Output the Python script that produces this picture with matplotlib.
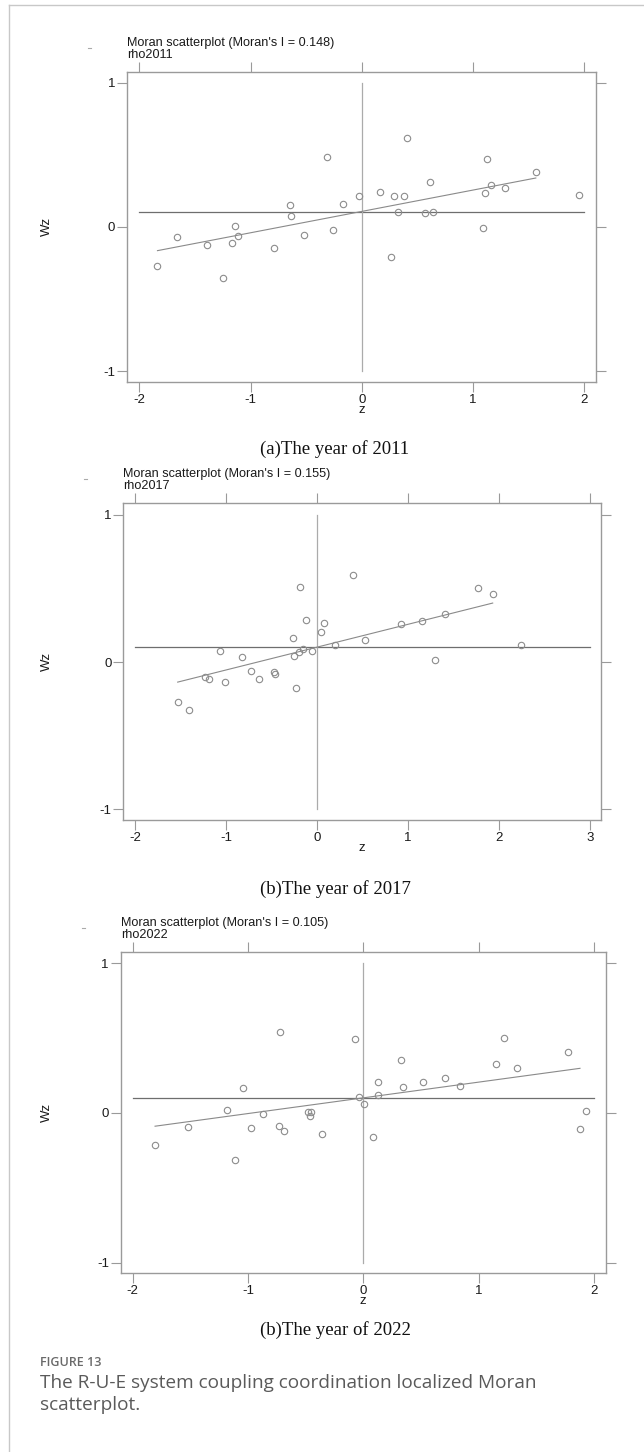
import matplotlib
matplotlib.use('Agg')
import matplotlib.pyplot as plt
from matplotlib.lines import Line2D

plt.rcParams['font.family'] = ['Liberation Sans', 'DejaVu Sans']

z2011 = [-1.837, -1.66, -1.39, -1.249, -1.163, -1.136, -1.115, -0.791, -0.647, -0.635,
         -0.521, -0.258, -0.171, -0.024, 0.165, 0.291, 0.375, 0.321, 0.264, 0.572,
         0.638, 0.617, 1.085, 1.106, 1.157, 1.291, 1.954, -0.312, 0.407, 1.121, 1.564]
wz2011 = [-0.268, -0.067, -0.127, -0.356, -0.111, 0.005, -0.060, -0.148, 0.152, 0.079,
          -0.053, -0.021, 0.162, 0.217, 0.242, 0.215, 0.215, 0.106, -0.208, 0.095,
          0.104, 0.312, -0.005, 0.238, 0.291, 0.270, 0.219, 0.483, 0.617, 0.469, 0.381]

z2017 = [0.396, -0.187, 1.771, 1.932, -0.121, 0.077, 0.040, -0.264, 0.927, 1.158,
         1.408, 0.532, 0.198, 2.247, -0.150, -0.202, -0.051, -0.253, -1.067, -0.825,
         1.298, -1.228, -1.188, -1.008, -0.729, -0.641, -0.473, -0.458, -0.227, -1.532, -1.408]
wz2017 = [0.590, 0.511, 0.505, 0.462, 0.285, 0.265, 0.204, 0.161, 0.258, 0.276,
          0.324, 0.147, 0.118, 0.118, 0.090, 0.070, 0.077, 0.038, 0.075, 0.032,
          0.014, -0.102, -0.118, -0.134, -0.063, -0.118, -0.070, -0.084, -0.175, -0.274, -0.324]

z2022 = [-0.720, -0.075, 1.217, 1.777, 0.329, 1.150, 1.329, -1.040, 0.130, 0.341,
         0.517, 0.708, 0.841, -0.038, 0.130, 0.009, -1.185, -0.873, -0.483, -0.451,
         -0.465, 1.934, -1.517, -0.971, -0.728, -0.685, -0.358, 0.084, 1.879, -1.809, -1.116]
wz2022 = [0.539, 0.497, 0.499, 0.410, 0.352, 0.330, 0.301, 0.169, 0.205, 0.174,
          0.205, 0.236, 0.178, 0.105, 0.118, 0.060, 0.022, -0.004, 0.009, 0.009,
          -0.022, 0.013, -0.091, -0.100, -0.087, -0.120, -0.143, -0.163, -0.109, -0.214, -0.312]

morans_i = [0.148, 0.155, 0.105]
intercepts = [0.108, 0.101, 0.101]
fit_ends = [[-1.837, 1.564], [-1.532, 1.932], [-1.806, 1.879]]
mean_wz = [0.106, 0.100, 0.100]
var_names = ['rho2011', 'rho2017', 'rho2022']
xticks_list = [[-2, -1, 0, 1, 2], [-2, -1, 0, 1, 2, 3], [-2, -1, 0, 1, 2]]
subcaps = ['(a)The year of 2011', '(b)The year of 2017', '(b)The year of 2022']

W, H = 644, 1452
fig = plt.figure(figsize=(W / 100, H / 100), dpi=100)

# frame boxes in pixels: left, right, top, bottom
boxes = [(127, 596, 72, 381.7), (123.3, 601, 503.3, 820), (120.7, 605.7, 952, 1273.3)]
xlims = [(-2.111, 2.105), (-2.130, 3.123), (-2.104, 2.102)]
ylims = [(-1.072, 1.074), (-1.073, 1.078), (-1.072, 1.076)]
subcap_y = [449, 889, 1330]

zs = [z2011, z2017, z2022]
wzs = [wz2011, wz2017, wz2022]

frame_col = '#9a9a9a'
txt_col = '#1a1a1a'
for i in range(3):
    l, r, t, b = boxes[i]
    ax = fig.add_axes([l / W, 1 - b / H, (r - l) / W, (b - t) / H])
    xt = xticks_list[i]
    ax.plot([xt[0], xt[-1]], [mean_wz[i], mean_wz[i]], color='#6e6e6e', lw=0.9)
    ax.plot([0, 0], [-1, 1], color='#ababab', lw=0.9)
    fx = fit_ends[i]
    ax.plot(fx, [intercepts[i] + morans_i[i] * v for v in fx], color='#8a8a8a', lw=0.8)
    ax.plot(zs[i], wzs[i], 'o', mfc='none', mec='#8c8c8c', ms=4.6, mew=0.8)
    ax.set_xlim(*xlims[i])
    ax.set_ylim(*ylims[i])
    ax.set_xticks(xt)
    ax.set_yticks([-1, 0, 1])
    ax.set_xticklabels([str(v) for v in xt])
    ax.set_yticklabels(['-1', '0', '1'])
    ax.tick_params(direction='out', length=7, width=0.8, color=frame_col,
                   labelsize=9.5, labelcolor=txt_col, pad=1.5,
                   top=True, right=True, labeltop=False, labelright=False)
    for s in ax.spines.values():
        s.set_color(frame_col)
        s.set_linewidth(1.0)
    fig.text((l + r) / 2 / W, 1 - (b + 28) / H, 'z', fontsize=9.5,
             ha='center', va='center', color=txt_col)
    fig.text(47 / W, 1 - (t + b) / 2 / H, 'Wz', rotation=90, fontsize=9.5,
             ha='center', va='center', color=txt_col)
    fig.text(l / W, 1 - (t - 29) / H, "Moran scatterplot (Moran's I = %.3f)" % morans_i[i],
             fontsize=9.1, ha='left', va='center', color=txt_col)
    fig.text(l / W, 1 - (t - 17) / H, var_names[i], fontsize=9.1, ha='left',
             va='center', color=txt_col)
    fig.text(335 / W, 1 - subcap_y[i] / H, subcaps[i], family='Liberation Serif',
             fontsize=13.5, ha='center', va='center', color='#111111')
    # small stray mark left of each panel title
    fig.add_artist(Line2D([(l - 39) / W, (l - 36) / W], [1 - (t - 24) / H] * 2,
                          color='#aaaaaa', lw=0.8))

# page border lines
fig.add_artist(Line2D([9 / W, 1], [1 - 5 / H, 1 - 5 / H], color='#c8c8c8', lw=1))
fig.add_artist(Line2D([9 / W, 9 / W], [0, 1 - 5 / H], color='#c8c8c8', lw=1))

fig.text(40 / W, 1 - 1362 / H, 'FIGURE 13', family='Open Sans', fontsize=9,
         fontweight='semibold', color='#6a6a6a', ha='left', va='center')
fig.text(40 / W, 1 - 1383 / H, 'The R-U-E system coupling coordination localized Moran',
         family='Open Sans', fontsize=13.7, color='#5a5a5a', ha='left', va='center')
fig.text(40 / W, 1 - 1405 / H, 'scatterplot.', family='Open Sans', fontsize=13.7,
         color='#5a5a5a', ha='left', va='center')

plt.savefig('out.png', dpi=100)
